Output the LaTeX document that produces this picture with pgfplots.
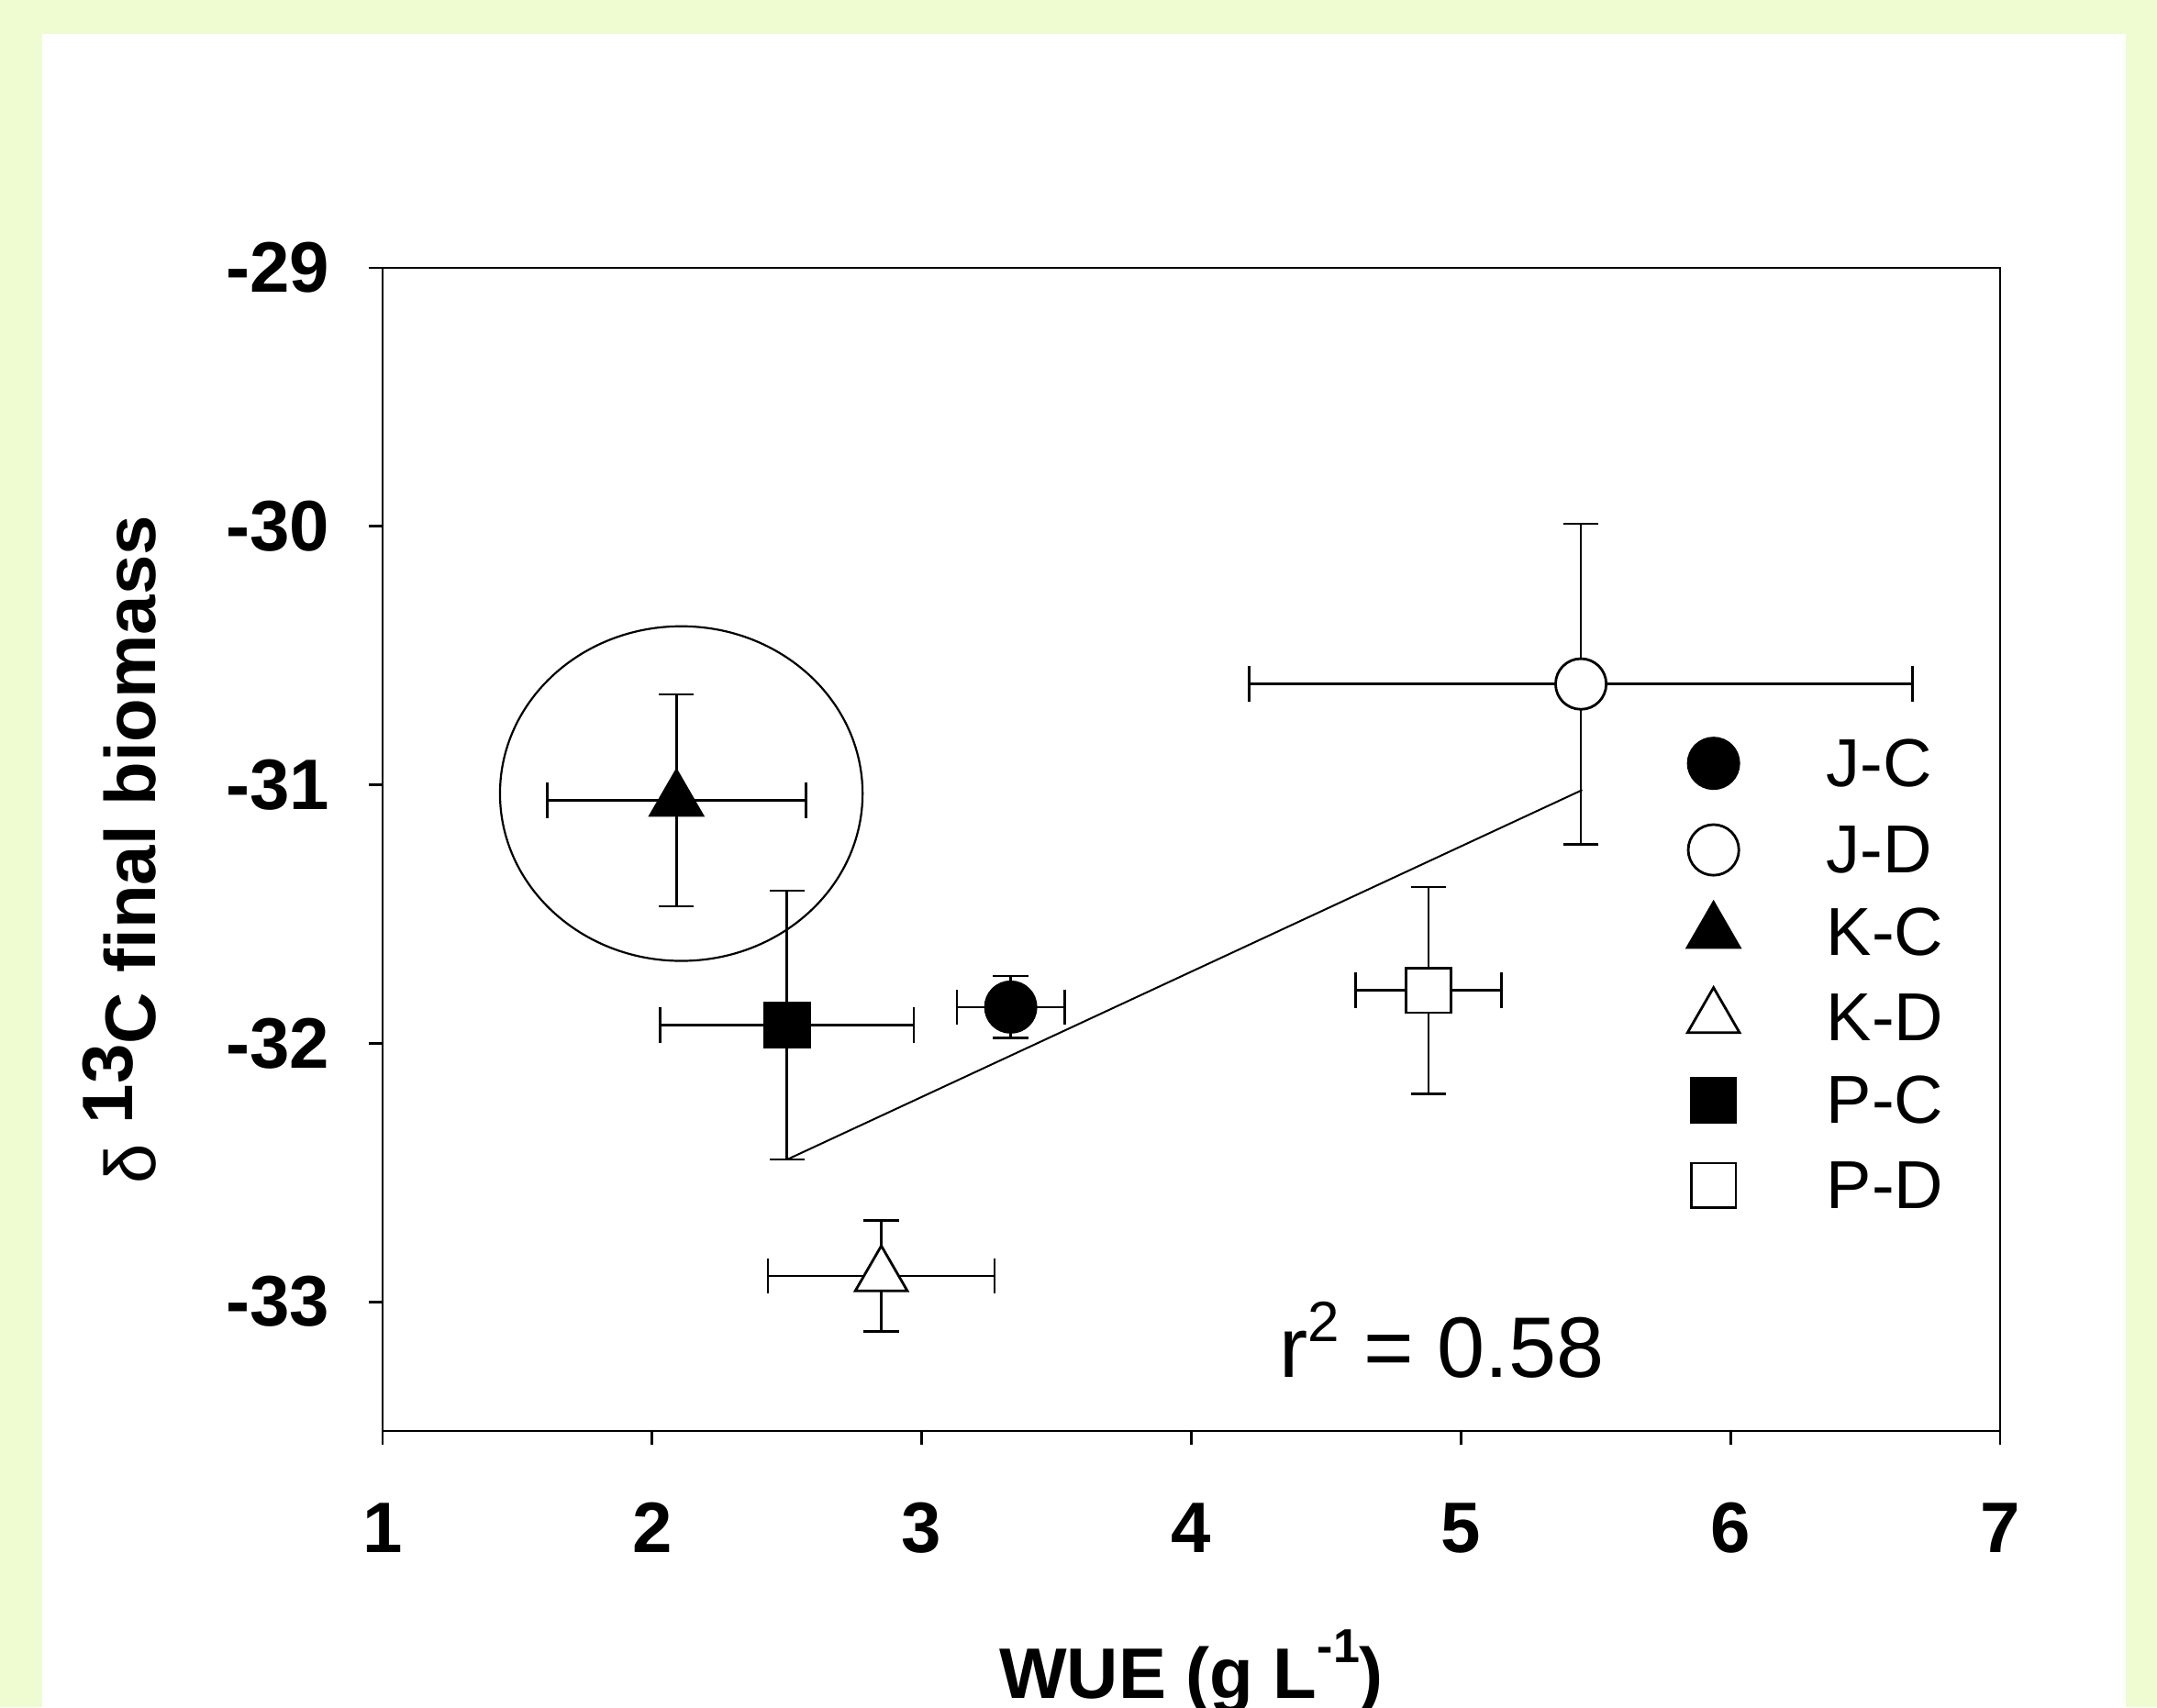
\documentclass[border=0pt]{standalone}
\usepackage{fontspec}
\setmainfont{Liberation Sans}
\usepackage{pgfplots}
\pgfplotsset{compat=1.18}
\definecolor{bggreen}{RGB}{239,251,209}

\pgfplotsset{
  ebar/.style={error bars/.cd, x dir=both, x explicit, y dir=both, y explicit,
    error bar style={line width=0.65pt, black},
    error mark options={rotate=90, mark size=4.8pt, line width=0.65pt, black}},
  mfill/.style={only marks, mark options={draw=black, fill=black, line width=0.7pt}},
  mopen/.style={only marks, mark options={draw=black, fill=white, line width=0.7pt}},
}

\begin{document}
\begin{tikzpicture}
% page background and white panel
\fill[bggreen] (-104.25pt,-75.25pt) rectangle (483.5pt,390pt);
\fill[white] (-92.75pt,-75.25pt) rectangle (475pt,380.7pt);

\begin{axis}[
  scale only axis,
  width=440.75pt, height=317pt,
  xmin=1, xmax=7,
  ymin=-33.5, ymax=-29,
  xtick={1,2,3,4,5,6,7},
  xticklabels={1,2,3,4,5,6,7},
  ytick={-33,-32,-31,-30,-29},
  yticklabels={-33,-32,-31,-30,-29},
  tick align=outside, tick pos=left,
  major tick length=3.75pt,
  axis line style={line width=0.7pt},
  every tick/.style={black, line width=0.7pt},
  ticklabel style={font=\bfseries\fontsize{19.5}{20}\selectfont},
  xticklabel style={anchor=base},
  xticklabel shift=29.25pt,
  yticklabel style={anchor=east, inner sep=0pt},
  yticklabel shift=10.5pt,
  xlabel={WUE (g L\raisebox{0.5em}{\fontsize{13}{13}\selectfont -1})},
  xlabel style={font=\bfseries\fontsize{19.5}{20}\selectfont, at={(axis description cs:0.5,-0.2300)}, anchor=base},
  ylabel={{\mdseries δ} \raisebox{0.33em}{13}C final biomass},
  ylabel style={font=\bfseries\fontsize{19.5}{20}\selectfont, at={(axis description cs:-0.1401,0.5)}, anchor=base},
  clip=false,
]

% regression line
\addplot[black, line width=0.5pt] coordinates {(2.50,-32.45) (5.45,-31.02)};

% J-C
\addplot[mfill, mark=*, mark size=6.9pt, ebar] coordinates {(3.33,-31.86) +- (0.20,0.12)};
% J-D
\addplot[mopen, mark=*, mark size=6.9pt, ebar] coordinates {(5.445,-30.61) +- (1.23,0.62)};
% K-C
\addplot[mfill, mark=triangle*, mark size=8.2pt, ebar] coordinates {(2.09,-31.06) +- (0.48,0.41)};
% K-D
\addplot[mopen, mark=triangle*, mark size=8.2pt, ebar] coordinates {(2.85,-32.90) +- (0.42,0.215)};
% P-C
\addplot[mfill, mark=square*, mark size=6.1pt, ebar] coordinates {(2.50,-31.93) +- (0.47,0.52)};
% P-D
\addplot[mopen, mark=square*, mark size=6.1pt, ebar] coordinates {(4.88,-31.795) +- (0.27,0.40)};

% circled outlier
\draw[line width=0.55pt] (axis cs:2.108,-31.034) ellipse [x radius=49.4pt, y radius=45.6pt];

% legend
\addplot[mfill, mark=*, mark size=6.9pt] coordinates {(5.937,-30.917)};
\addplot[mopen, mark=*, mark size=6.9pt] coordinates {(5.937,-31.252)};
\addplot[mfill, mark=triangle*, mark size=8.2pt] coordinates {(5.937,-31.571)};
\addplot[mopen, mark=triangle*, mark size=8.2pt] coordinates {(5.937,-31.901)};
\addplot[mfill, mark=square*, mark size=6.1pt] coordinates {(5.937,-32.220)};
\addplot[mopen, mark=square*, mark size=6.1pt] coordinates {(5.937,-32.550)};
\begin{scope}[every node/.style={anchor=west, inner sep=0pt, font=\fontsize{18.5}{20}\selectfont}]
\node at (axis cs:6.354,-30.917) {J-C};
\node at (axis cs:6.354,-31.252) {J-D};
\node at (axis cs:6.354,-31.571) {K-C};
\node at (axis cs:6.354,-31.901) {K-D};
\node at (axis cs:6.354,-32.220) {P-C};
\node at (axis cs:6.354,-32.550) {P-D};
\end{scope}

\node[anchor=base, inner sep=0pt, font=\fontsize{23.4}{25}\selectfont] at (axis cs:4.93,-33.294) {r\raisebox{0.42em}{\fontsize{15.5}{16}\selectfont 2} = 0.58};

\end{axis}
\pgfresetboundingbox
\path (-104.25pt,-75.25pt) rectangle (483.5pt,390pt);
\end{tikzpicture}
\end{document}
